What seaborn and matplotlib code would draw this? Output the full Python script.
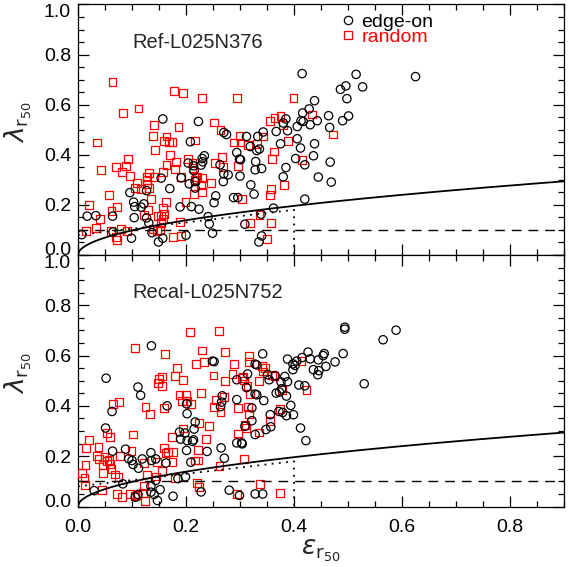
import numpy as np
import pandas as pd
import matplotlib
matplotlib.use("Agg")
import matplotlib.pyplot as plt
from matplotlib.lines import Line2D
import seaborn as sns

# ---------------- data ----------------
ref_rand_eps = [0.064,0.177,0.194,0.083,0.112,0.186,0.141,0.035,0.139,0.164,0.160,0.168,0.175,0.142,0.170,0.093,0.181,0.204,0.089,0.071,
                0.043,0.081,0.164,0.180,0.096,0.131,0.157,0.127,0.127,0.141,0.190,0.212,0.212,0.219,0.110,0.106,0.117,0.132,0.128,0.057,
                0.135,0.215,0.020,0.073,0.163,0.199,0.157,0.062,0.130,0.041,0.122,0.148,0.154,0.159,0.158,0.154,0.034,0.015,0.061,0.080,
                0.091,0.070,0.072,0.139,0.147,0.152,0.189,0.176,0.190,0.217,0.217,
                0.230,0.294,0.399,0.252,0.264,0.356,0.364,0.375,0.379,0.289,0.299,0.301,0.315,0.331,0.343,0.389,0.363,0.360,0.415,0.266,
                0.254,0.269,0.296,0.221,0.230,0.228,0.230,0.247,0.357,0.355,0.382,0.304,0.336,0.319,0.358,0.350,0.433,0.472]
ref_rand_lam = [0.690,0.656,0.648,0.567,0.585,0.510,0.519,0.449,0.475,0.473,0.455,0.452,0.452,0.420,0.399,0.384,0.371,0.384,0.356,0.351,
                0.339,0.332,0.360,0.344,0.315,0.327,0.330,0.313,0.300,0.311,0.311,0.367,0.347,0.311,0.289,0.269,0.265,0.269,0.283,0.240,
                0.225,0.243,0.200,0.192,0.212,0.211,0.189,0.176,0.179,0.144,0.160,0.155,0.156,0.164,0.143,0.129,0.109,0.095,0.095,0.103,
                0.095,0.073,0.060,0.104,0.095,0.100,0.132,0.072,0.077,0.457,0.300,
                0.625,0.628,0.627,0.529,0.500,0.536,0.547,0.555,0.519,0.449,0.476,0.449,0.440,0.443,0.473,0.455,0.413,0.383,0.380,0.391,
                0.367,0.351,0.356,0.311,0.307,0.280,0.251,0.287,0.263,0.239,0.279,0.225,0.160,0.127,0.127,0.064,0.561,0.481]

ref_edge_eps = [0.157,0.208,0.223,0.204,0.214,0.215,0.191,0.154,0.206,0.217,0.170,0.127,0.096,0.103,0.105,0.122,0.117,0.189,0.210,0.017,
                0.033,0.064,0.104,0.127,0.131,0.007,0.065,0.099,0.137,0.149,0.157,0.200,
                0.415,0.270,0.275,0.312,0.333,0.343,0.367,0.385,0.388,0.380,0.406,0.413,0.417,0.416,0.428,0.430,0.406,0.375,0.319,0.331,
                0.336,0.294,0.299,0.301,0.412,0.234,0.230,0.231,0.228,0.263,0.329,0.328,0.340,0.403,0.420,0.385,0.380,0.270,0.278,0.269,
                0.300,0.217,0.320,0.326,0.255,0.252,0.288,0.296,0.224,0.420,0.362,0.241,0.243,0.309,0.339,0.249,0.340,0.335,
                0.515,0.625,0.486,0.496,0.527,0.498,0.438,0.443,0.464,0.501,0.490,0.466,0.438,0.436,0.467,0.445,0.469]
ref_edge_lam = [0.543,0.452,0.533,0.367,0.356,0.336,0.308,0.307,0.284,0.267,0.265,0.257,0.249,0.211,0.193,0.204,0.191,0.192,0.193,0.155,
                0.157,0.155,0.149,0.148,0.128,0.081,0.092,0.067,0.089,0.052,0.067,0.079,
                0.724,0.489,0.481,0.473,0.473,0.491,0.493,0.543,0.496,0.527,0.513,0.536,0.533,0.567,0.583,0.520,0.464,0.444,0.433,0.417,
                0.423,0.409,0.383,0.380,0.427,0.396,0.385,0.372,0.359,0.360,0.373,0.340,0.345,0.385,0.360,0.349,0.312,0.324,0.320,0.293,
                0.315,0.293,0.280,0.243,0.236,0.209,0.229,0.229,0.183,0.223,0.187,0.153,0.124,0.123,0.163,0.087,0.076,0.052,
                0.721,0.712,0.661,0.675,0.671,0.624,0.616,0.536,0.556,0.555,0.536,0.509,0.444,0.396,0.371,0.311,0.291]

recal_rand_eps = [0.208,0.106,0.161,0.219,0.183,0.180,0.195,0.155,0.150,0.148,0.156,0.188,0.200,0.193,0.202,0.210,0.065,0.076,0.125,0.134,
                  0.159,0.195,0.054,0.059,0.102,0.174,0.020,0.015,0.038,0.099,0.159,0.162,0.167,0.176,0.035,0.039,0.049,0.053,0.057,0.060,
                  0.077,0.047,0.046,0.062,0.014,0.008,0.012,0.013,0.069,0.075,0.122,0.147,0.175,0.156,0.127,0.144,0.179,0.045,0.073,0.082,
                  0.096,0.105,0.110,0.122,0.120,0.124,
                  0.261,0.230,0.272,0.233,0.289,0.317,0.317,0.340,0.346,0.342,0.359,0.364,0.414,0.251,0.286,0.273,0.303,0.308,0.306,0.335,
                  0.314,0.319,0.227,0.423,0.378,0.256,0.271,0.252,0.264,0.296,0.315,0.317,0.374,0.224,0.243,0.310,0.311,0.355,0.237,0.296,
                  0.335,0.223,0.217,0.222,0.308,0.262,0.220,0.224,0.337,0.294,0.374]
recal_rand_lam = [0.693,0.630,0.606,0.567,0.549,0.520,0.503,0.517,0.507,0.491,0.480,0.442,0.443,0.421,0.421,0.408,0.407,0.415,0.394,0.368,
                  0.392,0.310,0.292,0.275,0.286,0.278,0.265,0.233,0.238,0.222,0.233,0.212,0.216,0.218,0.201,0.189,0.197,0.180,0.184,0.170,
                  0.200,0.164,0.132,0.150,0.164,0.132,0.114,0.085,0.127,0.118,0.172,0.176,0.176,0.140,0.127,0.119,0.114,0.067,0.048,0.037,
                  0.050,0.041,0.046,0.081,0.054,0.021,
                  0.697,0.620,0.614,0.574,0.566,0.598,0.574,0.560,0.550,0.537,0.524,0.520,0.577,0.521,0.527,0.499,0.511,0.501,0.517,0.500,
                  0.480,0.447,0.450,0.463,0.463,0.423,0.437,0.394,0.376,0.392,0.394,0.369,0.389,0.332,0.320,0.325,0.312,0.339,0.270,0.290,
                  0.294,0.225,0.183,0.183,0.188,0.160,0.094,0.077,0.090,0.048,0.052]

recal_edge_eps = [0.136,0.052,0.111,0.116,0.165,0.063,0.202,0.201,0.217,0.051,0.188,0.198,0.215,0.190,0.202,0.212,0.214,0.064,0.088,0.094,
                  0.100,0.119,0.135,0.136,0.144,0.102,0.112,0.163,0.201,0.209,0.030,0.083,0.144,0.135,0.135,0.152,0.111,0.106,0.141,0.147,
                  0.176,0.185,0.199,
                  0.249,0.252,0.342,0.328,0.331,0.388,0.398,0.402,0.405,0.415,0.426,0.398,0.351,0.354,0.365,0.383,0.388,0.376,0.314,0.294,
                  0.312,0.377,0.373,0.367,0.386,0.409,0.420,0.328,0.331,0.267,0.266,0.264,0.294,0.344,0.322,0.394,0.372,0.379,0.386,0.399,
                  0.356,0.322,0.309,0.348,0.357,0.328,0.412,0.294,0.303,0.304,0.422,0.239,0.265,0.271,0.280,0.299,0.328,0.342,0.228,
                  0.494,0.494,0.589,0.565,0.430,0.456,0.454,0.491,0.476,0.459,0.445,0.436,0.446,0.444,0.530]
recal_edge_lam = [0.639,0.510,0.475,0.442,0.400,0.378,0.369,0.408,0.336,0.312,0.296,0.292,0.308,0.268,0.262,0.259,0.265,0.220,0.228,0.190,
                  0.183,0.189,0.214,0.183,0.189,0.167,0.152,0.173,0.223,0.176,0.063,0.090,0.104,0.081,0.057,0.067,0.048,0.037,0.048,0.024,
                  0.041,0.111,0.118,
                  0.578,0.576,0.607,0.566,0.563,0.586,0.567,0.561,0.578,0.592,0.614,0.544,0.524,0.504,0.520,0.517,0.496,0.495,0.527,0.504,
                  0.473,0.468,0.455,0.451,0.439,0.483,0.480,0.447,0.444,0.440,0.415,0.397,0.425,0.421,0.392,0.402,0.378,0.374,0.361,0.365,
                  0.365,0.341,0.319,0.306,0.317,0.286,0.312,0.253,0.253,0.249,0.262,0.219,0.233,0.192,0.065,0.044,0.050,0.050,0.058,
                  0.713,0.705,0.701,0.663,0.587,0.608,0.600,0.608,0.575,0.557,0.583,0.544,0.540,0.524,0.488]

panel_names = ["Ref-L025N376", "Recal-L025N752"]
legend_labels = ["edge-on", "random"]
x_ticks = [0.0, 0.2, 0.4, 0.6, 0.8]
y_ticks = [0.0, 0.2, 0.4, 0.6, 0.8, 1.0]

# selection criteria (model lines)
sqrt_coef = 0.31           # lambda = 0.31 sqrt(eps)
dash_level = 0.1           # lambda = 0.1
dot_eps = [0.0, 0.4, 0.4]  # lambda = 0.08 + eps/4 for eps < 0.4
dot_lam = [0.08, 0.18, 0.0]

# ---------------- style ----------------
sns.set_theme(style="ticks")
plt.rcParams["font.family"] = ["Liberation Sans", "DejaVu Sans"]
plt.rcParams["mathtext.fontset"] = "dejavusans"
plt.rcParams["axes.linewidth"] = 0.9

fig = plt.figure(figsize=(5.74, 5.67), dpi=100)
ax_top = fig.add_axes([0.1359, 0.5503, 0.8467, 0.4418])
ax_bot = fig.add_axes([0.1359, 0.1067, 0.8467, 0.4436])

datasets = [
    (ref_edge_eps, ref_edge_lam, ref_rand_eps, ref_rand_lam),
    (recal_edge_eps, recal_edge_lam, recal_rand_eps, recal_rand_lam),
]

eps_grid = np.linspace(0, 0.9, 400)

for i, (ax, (ee, el, re, rl)) in enumerate(zip([ax_top, ax_bot], datasets)):
    df_r = pd.DataFrame({"eps": re, "lam": rl})
    df_e = pd.DataFrame({"eps": ee, "lam": el})
    sns.scatterplot(data=df_r, x="eps", y="lam", ax=ax, marker="s", s=32,
                    facecolors="none", edgecolor="#ff0000", linewidth=0.9, legend=False, zorder=3)
    sns.scatterplot(data=df_e, x="eps", y="lam", ax=ax, marker="o", s=36,
                    facecolors="none", edgecolor="black", linewidth=0.9, legend=False, zorder=3)
    ax.plot(eps_grid, sqrt_coef * np.sqrt(eps_grid), color="black", lw=1.3, zorder=4)
    ax.axhline(dash_level, color="black", lw=1.0, dashes=(7, 5), zorder=4)
    ax.plot(dot_eps, dot_lam, color="black", lw=1.3, linestyle=(0, (1, 3)), zorder=4)

    ax.set_xlim(0, 0.9)
    ax.set_ylim(0, 1.0)
    ax.set_xticks(x_ticks)
    ax.set_yticks(y_ticks)
    ax.set_xticks(np.arange(0, 0.9001, 0.05), minor=True)
    ax.set_yticks(np.arange(0, 1.0001, 0.05), minor=True)
    ax.tick_params(which="both", direction="in", top=True, right=True, colors="black",
                   labelsize=14, width=0.9)
    ax.tick_params(which="major", length=8, pad=5)
    ax.tick_params(which="minor", length=4.5)
    ax.tick_params(axis="x", which="major", pad=9)
    ax.set_yticklabels([f"{t:.1f}" for t in y_ticks])
    ylabs = ax.get_yticklabels()
    ylabs[0].set_va("baseline")
    ylabs[-1].set_va("top")
    for sp in ax.spines.values():
        sp.set_visible(True)
        sp.set_color("black")
    ax.set_ylabel(r"$\lambda_{\mathrm{r}_{50}}$", fontsize=19, labelpad=0)
    ax.yaxis.set_label_coords(-0.09, 0.53)
    ax.text(0.1, 0.85, panel_names[i], fontsize=14.5, ha="left", va="center",
            transform=ax.transData)
    ax.set_xlabel("")

ax_top.set_xticklabels([])
ax_bot.set_xticklabels([f"{t:.1f}" for t in x_ticks])
ax_bot.set_xlabel(r"$\varepsilon_{\mathrm{r}_{50}}$", fontsize=19, labelpad=1)

handles = [
    Line2D([], [], marker="o", linestyle="none", markersize=6, markerfacecolor="none",
           markeredgecolor="black", markeredgewidth=0.9),
    Line2D([], [], marker="s", linestyle="none", markersize=5.5, markerfacecolor="none",
           markeredgecolor="#ff0000", markeredgewidth=0.9),
]
leg = ax_top.legend(handles, legend_labels, loc="upper left", bbox_to_anchor=(0.543, 0.965),
                    frameon=False, fontsize=14, handlelength=0.6, handletextpad=0.4,
                    labelspacing=-0.15, borderpad=0, borderaxespad=0)
leg.get_texts()[0].set_color("black")
leg.get_texts()[1].set_color("#ff0000")

fig.savefig("out.png", dpi=100)
